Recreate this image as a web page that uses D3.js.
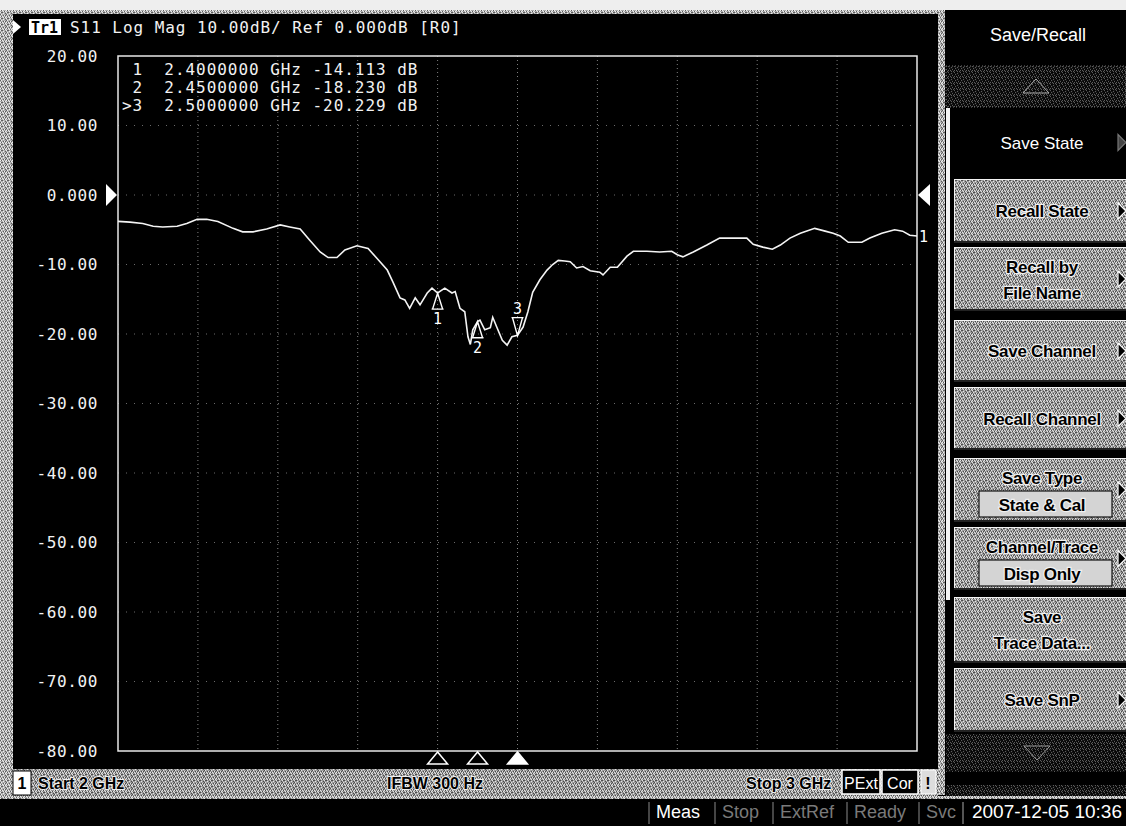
<!DOCTYPE html>
<html>
<head>
<meta charset="utf-8">
<script src="https://cdn.jsdelivr.net/npm/d3@7"></script>
<style>
  html, body { margin: 0; padding: 0; background: #000; }
  svg { display: block; }
  .mono { font-family: "DejaVu Sans Mono", "Liberation Mono", monospace; white-space: pre; }
  .sans { font-family: "Liberation Sans", "DejaVu Sans", sans-serif; }
</style>
</head>
<body>
<svg id="chart" width="1126" height="826"></svg>
<script>
// ---------------- DATA ----------------
const freqGHz = [2.000, 2.015, 2.031, 2.044, 2.056, 2.074, 2.086, 2.099, 2.111, 2.125,
  2.144, 2.156, 2.169, 2.186, 2.203, 2.215, 2.228, 2.240, 2.253, 2.263,
  2.274, 2.284, 2.299, 2.313, 2.324, 2.337, 2.344, 2.353, 2.359, 2.365,
  2.372, 2.378, 2.387, 2.393, 2.400, 2.409, 2.418, 2.422, 2.428, 2.434,
  2.438, 2.441, 2.444, 2.450, 2.453, 2.459, 2.466, 2.469, 2.474, 2.481,
  2.487, 2.493, 2.500, 2.507, 2.513, 2.519, 2.528, 2.537, 2.544, 2.551,
  2.559, 2.566, 2.574, 2.582, 2.591, 2.603, 2.607, 2.616, 2.625, 2.637,
  2.645, 2.662, 2.678, 2.693, 2.700, 2.707, 2.720, 2.737, 2.753, 2.770,
  2.787, 2.795, 2.807, 2.819, 2.829, 2.841, 2.854, 2.872, 2.885, 2.895,
  2.904, 2.914, 2.931, 2.941, 2.956, 2.972, 2.982, 2.991, 3.000];
const s11dB = [-3.8, -3.9, -4.1, -4.5, -4.6, -4.5, -4.1, -3.5, -3.5, -3.8,
  -4.8, -5.3, -5.3, -4.9, -4.3, -4.6, -4.9, -6.5, -8.2, -9.0,
  -9.0, -7.9, -7.3, -7.7, -9.1, -10.8, -12.5, -14.8, -15.1, -16.3,
  -14.8, -15.8, -14.1, -13.4, -14.1, -13.4, -14.1, -13.9, -16.3, -16.8,
  -20.4, -21.5, -19.4, -18.2, -18.0, -19.4, -19.1, -17.6, -19.0, -20.9,
  -21.6, -20.4, -20.2, -19.0, -16.8, -14.0, -12.2, -10.8, -10.0, -9.4,
  -9.5, -9.6, -10.5, -10.3, -10.9, -11.1, -11.5, -10.4, -10.4, -8.8,
  -8.1, -8.1, -8.2, -8.1, -8.6, -8.9, -8.2, -7.2, -6.2, -6.2,
  -6.2, -7.1, -7.5, -7.8, -7.2, -6.2, -5.5, -4.8, -5.2, -5.5,
  -5.9, -6.8, -6.8, -6.2, -5.5, -5.0, -5.2, -5.8, -5.9];

const yTickValues = [20, 10, 0, -10, -20, -30, -40, -50, -60, -70, -80];
const xGridValues = [2.1, 2.2, 2.3, 2.4, 2.5, 2.6, 2.7, 2.8, 2.9];

const markerIds = ["1", "2", "3"];
const markerFreq = [2.40, 2.45, 2.50];
const markerDB = [-14.113, -18.230, -20.229];
const markerReadout = [" 1  2.4000000 GHz -14.113 dB",
                       " 2  2.4500000 GHz -18.230 dB",
                       ">3  2.5000000 GHz -20.229 dB"];

const headerText = "S11 Log Mag 10.00dB/ Ref 0.000dB [R0]";
const menuTitle = "Save/Recall";
const menuItems = [["Save State"], ["Recall State"], ["Recall by", "File Name"], ["Save Channel"],
  ["Recall Channel"], ["Save Type", "State & Cal"], ["Channel/Trace", "Disp Only"],
  ["Save", "Trace Data..."], ["Save SnP"]];
const statusLeft = ["Start 2 GHz", "IFBW 300 Hz", "Stop 3 GHz"];
const statusBottom = ["Meas", "Stop", "ExtRef", "Ready", "Svc"];
const dateText = "2007-12-05 10:36";

// ---------------- DRAW ----------------
const svg = d3.select("#chart");
const defs = svg.append("defs");

// fixed dither textures (screen-print look)
const lightDots = [[0,0],[3,1],[1,2],[4,3],[2,4],[5,5],[0,4],[3,5]];
const darkDots = [[2,0],[5,1],[0,2],[3,3],[1,4],[4,5],[5,3],[1,0]];
function dither(id, base, light, dark) {
  const p = defs.append("pattern").attr("id", id).attr("width", 6).attr("height", 6)
    .attr("patternUnits", "userSpaceOnUse");
  p.append("rect").attr("width", 6).attr("height", 6).attr("fill", base);
  lightDots.forEach(([a,b]) => p.append("rect").attr("x", a).attr("y", b).attr("width",1).attr("height",1).attr("fill", light));
  darkDots.forEach(([a,b]) => p.append("rect").attr("x", a).attr("y", b).attr("width",1).attr("height",1).attr("fill", dark));
}
dither("btn", "#9c9c9c", "#e4e4e4", "#4c4c4c");
dither("frame", "#b0b0b0", "#efefef", "#5e5e5e");
dither("darkd", "#121212", "#5c5c5c", "#000");

// background
svg.append("rect").attr("width", 1126).attr("height", 826).attr("fill", "#000");
// top strip
svg.append("rect").attr("x", 0).attr("y", 0).attr("width", 1126).attr("height", 10).attr("fill", "#eeeeee");
svg.append("rect").attr("x", 0).attr("y", 10).attr("width", 940).attr("height", 4).attr("fill", "url(#frame)");
// left strip
svg.append("rect").attr("x", 0).attr("y", 10).attr("width", 13).attr("height", 790).attr("fill", "url(#frame)");
// strip between channel window and menu
svg.append("rect").attr("x", 938).attr("y", 10).attr("width", 7).attr("height", 785).attr("fill", "url(#frame)");

// scales
const x = d3.scaleLinear().domain([2, 3]).range([118, 917]);
const y = d3.scaleLinear().domain([-80, 20]).range([751, 56]);

// grid
const plot = svg.append("g");
plot.selectAll(".vg").data(xGridValues).join("line")
  .attr("x1", d => x(d)).attr("x2", d => x(d)).attr("y1", y(20)).attr("y2", y(-80))
  .attr("stroke", "#808080").attr("stroke-width", 1).attr("stroke-dasharray", "1,3");
plot.selectAll(".hg").data(yTickValues.filter(v => v !== 20 && v !== -80)).join("line")
  .attr("x1", x(2)).attr("x2", x(3)).attr("y1", d => y(d)).attr("y2", d => y(d))
  .attr("stroke", "#6a6a6a").attr("stroke-width", 1).attr("stroke-dasharray", "1,7");

// frame
plot.append("rect").attr("x", x(2)).attr("y", y(20)).attr("width", x(3) - x(2)).attr("height", y(-80) - y(20))
  .attr("fill", "none").attr("stroke", "#e8e8e8").attr("stroke-width", 1.5);

// y axis labels
const yAxis = d3.axisLeft(y).tickValues(yTickValues).tickSize(0).tickPadding(20)
  .tickFormat(v => v === 0 ? "0.000" : v.toFixed(2));
const ya = svg.append("g").attr("transform", `translate(${x(2)},0)`).call(yAxis);
ya.select(".domain").remove();
ya.selectAll("text").attr("class", "mono").attr("fill", "#f2f2f2")
  .style("font-size", "16px").style("letter-spacing", "0.6px");

// reference arrows
svg.append("path").attr("d", `M${x(2) - 12},${y(0) - 11} L${x(2) - 1},${y(0)} L${x(2) - 12},${y(0) + 11} Z`).attr("fill", "#fff");
svg.append("path").attr("d", `M${x(3) + 13},${y(0) - 11} L${x(3) + 1},${y(0)} L${x(3) + 13},${y(0) + 11} Z`).attr("fill", "#fff");

// trace
const pts = freqGHz.map((f, i) => ({ f, v: s11dB[i] }));
const line = d3.line().x(d => x(d.f)).y(d => y(d.v));
plot.append("path").datum(pts).attr("d", line).attr("fill", "none")
  .attr("stroke", "#f4f4f4").attr("stroke-width", 1.6).attr("stroke-linejoin", "miter");
// trace number label
svg.append("text").attr("class", "mono").attr("x", x(3) + 2).attr("y", y(s11dB[s11dB.length - 1]) + 6)
  .attr("fill", "#fff").style("font-size", "15px").text("1");

// markers on trace
markerIds.forEach((id, i) => {
  const mx = x(markerFreq[i]), my = y(markerDB[i]);
  const active = i === markerIds.length - 1;
  if (!active) {
    svg.append("path").attr("d", `M${mx},${my} L${mx - 5},${my + 16} L${mx + 5},${my + 16} Z M${mx - 6},${my + 16} L${mx + 6},${my + 16}`)
      .attr("fill", "none").attr("stroke", "#fff").attr("stroke-width", 1.4);
    svg.append("text").attr("class", "mono").attr("x", mx).attr("y", my + 31).attr("text-anchor", "middle")
      .attr("fill", "#fff").style("font-size", "15px").text(id);
  } else {
    svg.append("path").attr("d", `M${mx},${my} L${mx - 5},${my - 18} L${mx + 5},${my - 18} Z M${mx - 6},${my - 18} L${mx + 6},${my - 18}`)
      .attr("fill", "none").attr("stroke", "#fff").attr("stroke-width", 1.4);
    svg.append("text").attr("class", "mono").attr("x", mx).attr("y", my - 22).attr("text-anchor", "middle")
      .attr("fill", "#fff").style("font-size", "15px").text(id);
  }
  // bottom indicator triangles
  svg.append("path").attr("d", `M${mx},${y(-80) + 1} L${mx - 10},${y(-80) + 13} L${mx + 10},${y(-80) + 13} Z`)
    .attr("fill", active ? "#fff" : "#000").attr("stroke", "#fff").attr("stroke-width", 1.5);
});

// marker readout
svg.selectAll(".ro").data(markerReadout).join("text").attr("class", "mono")
  .attr("x", 122).attr("y", (d, i) => 75 + i * 18).attr("fill", "#f2f2f2")
  .style("font-size", "16px").style("letter-spacing", "0.95px").text(d => d);

// header
svg.append("path").attr("d", "M13,20 L21,27 L13,34 Z").attr("fill", "#fff");
svg.append("rect").attr("x", 29).attr("y", 19).attr("width", 32).attr("height", 16).attr("fill", "#fff");
svg.append("text").attr("class", "mono").attr("x", 31).attr("y", 33).attr("fill", "#000")
  .style("font-size", "15px").style("font-weight", "bold").text("Tr1");
svg.append("text").attr("class", "mono").attr("x", 70).attr("y", 33).attr("fill", "#f2f2f2")
  .style("font-size", "16px").style("letter-spacing", "0.95px").text(headerText);

// status bar (channel)
svg.append("rect").attr("x", 13).attr("y", 769).attr("width", 925).attr("height", 27).attr("fill", "url(#btn)");
svg.append("rect").attr("x", 13).attr("y", 771).attr("width", 18).attr("height", 24).attr("fill", "#fff").attr("stroke", "#000");
svg.append("text").attr("class", "sans").attr("x", 22).attr("y", 789).attr("text-anchor", "middle")
  .attr("fill", "#000").style("font-size", "16px").style("font-weight", "bold").text("1");
const statusX = [38, 387, 746];
statusLeft.forEach((t, i) => {
  svg.append("text").attr("class", "sans").attr("x", statusX[i]).attr("y", 789).attr("fill", "#000")
    .attr("stroke", "#eee").attr("stroke-width", 1.8).attr("paint-order", "stroke")
    .style("font-size", "16px").style("font-weight", "bold").text(t);
});
[["PExt", 842, 38], ["Cor", 882, 36]].forEach(([t, bx, bw]) => {
  svg.append("rect").attr("x", bx).attr("y", 770).attr("width", bw).attr("height", 24).attr("fill", "#000")
    .attr("stroke", "#fff").attr("stroke-width", 1.5);
  svg.append("text").attr("class", "sans").attr("x", bx + bw / 2).attr("y", 789).attr("text-anchor", "middle")
    .attr("fill", "#fff").style("font-size", "16px").text(t);
});
svg.append("rect").attr("x", 921).attr("y", 770).attr("width", 15).attr("height", 24).attr("fill", "#ddd").attr("stroke", "#fff");
svg.append("text").attr("class", "sans").attr("x", 928).attr("y", 789).attr("text-anchor", "middle")
  .attr("fill", "#000").style("font-size", "16px").style("font-weight", "bold").text("!");

// bottom bar
svg.append("rect").attr("x", 0).attr("y", 796).attr("width", 1126).attr("height", 3).attr("fill", "url(#frame)");
svg.append("rect").attr("x", 0).attr("y", 799).attr("width", 1126).attr("height", 27).attr("fill", "#000");
const botX = [656, 722, 780, 854, 926];
statusBottom.forEach((t, i) => {
  svg.append("text").attr("class", "sans").attr("x", botX[i]).attr("y", 818)
    .attr("fill", i === 0 ? "#fff" : "#7a7a7a").style("font-size", "18px").text(t);
  svg.append("line").attr("x1", botX[i] - 7).attr("x2", botX[i] - 7).attr("y1", 802).attr("y2", 824)
    .attr("stroke", "#8a8a8a").attr("stroke-width", 1);
});
svg.append("line").attr("x1", 963).attr("x2", 963).attr("y1", 802).attr("y2", 824).attr("stroke", "#aaa");
svg.append("text").attr("class", "sans").attr("x", 1122).attr("y", 818).attr("text-anchor", "end")
  .attr("fill", "#fff").style("font-size", "19px").text(dateText);

// ---------------- softkey menu ----------------
const menu = svg.append("g");
const mx0 = 954, mx1 = 1126, cx = 1042;
menu.append("text").attr("class", "sans").attr("x", 1038).attr("y", 41).attr("text-anchor", "middle")
  .attr("fill", "#fff").style("font-size", "18px").text(menuTitle);
// up arrow key
menu.append("rect").attr("x", mx0 - 8).attr("y", 66).attr("width", mx1 - mx0 + 8).attr("height", 41)
  .attr("fill", "url(#darkd)").attr("stroke", "#777").attr("stroke-dasharray", "1,2");
menu.append("path").attr("d", `M${1036},79 L${1049},93 L${1023},93 Z`).attr("fill", "none").attr("stroke", "#aaa");
// scrollbar strip
menu.append("rect").attr("x", 946).attr("y", 108).attr("width", 4).attr("height", 492).attr("fill", "#f2f2f2");

const keyTops = [108, 179, 247, 320, 387, 458, 527, 597, 668];
const keyBots = [177, 243, 311, 382, 450, 522, 590, 663, 732];
menuItems.forEach((lab, i) => {
  const t = keyTops[i], b = keyBots[i], h = b - t;
  const selected = i === 0;
  menu.append("rect").attr("x", mx0).attr("y", t).attr("width", mx1 - mx0).attr("height", h)
    .attr("fill", selected ? "#000" : "url(#btn)");
  if (!selected) {
    menu.append("line").attr("x1", mx0).attr("x2", mx1).attr("y1", t + 0.5).attr("y2", t + 0.5).attr("stroke", "#f4f4f4");
    menu.append("line").attr("x1", mx0 + 0.5).attr("x2", mx0 + 0.5).attr("y1", t).attr("y2", b).attr("stroke", "#f4f4f4");
    menu.append("line").attr("x1", mx0).attr("x2", mx1).attr("y1", b - 1).attr("y2", b - 1).attr("stroke", "#222").attr("stroke-width", 2);
  }
  const fill = selected ? "#fff" : "#000";
  const isBoxed = i === 5 || i === 6;
  const lines = lab;
  let ys;
  if (lines.length === 1) ys = [t + h / 2 + 6];
  else if (isBoxed) ys = [t + 26, t + 53];
  else ys = [t + 26, t + 52];
  if (isBoxed) {
    menu.append("rect").attr("x", 979).attr("y", t + 33).attr("width", 133).attr("height", 26)
      .attr("fill", "#d4d4d4").attr("stroke", "#111").attr("stroke-width", 1.2);
  }
  lines.forEach((s, k) => {
    const tx = menu.append("text").attr("class", "sans").attr("x", cx).attr("y", ys[k]).attr("text-anchor", "middle")
      .attr("fill", fill).style("font-size", "17px").text(s);
    if (!selected) tx.attr("stroke", "#f0f0f0").attr("stroke-width", 2.4).attr("paint-order", "stroke")
      .style("font-weight", "bold").style("letter-spacing", "-0.3px");
  });
  // right arrow
  if (i !== 7) {
    const ay = t + h / 2;
    menu.append("path").attr("d", `M1118,${ay - 8} L1126,${ay} L1118,${ay + 8} Z`)
      .attr("fill", selected ? "#444" : "#000").attr("stroke", selected ? "#777" : "#fff").attr("stroke-width", 1.2);
  }
});
// down arrow key
menu.append("rect").attr("x", mx0 - 8).attr("y", 734).attr("width", mx1 - mx0 + 8).attr("height", 38).attr("fill", "url(#darkd)");
menu.append("path").attr("d", `M1024,746 L1050,746 L1037,760 Z`).attr("fill", "none").attr("stroke", "#999");
menu.append("rect").attr("x", 946).attr("y", 785).attr("width", 180).attr("height", 11).attr("fill", "url(#darkd)");
</script>
</body>
</html>
